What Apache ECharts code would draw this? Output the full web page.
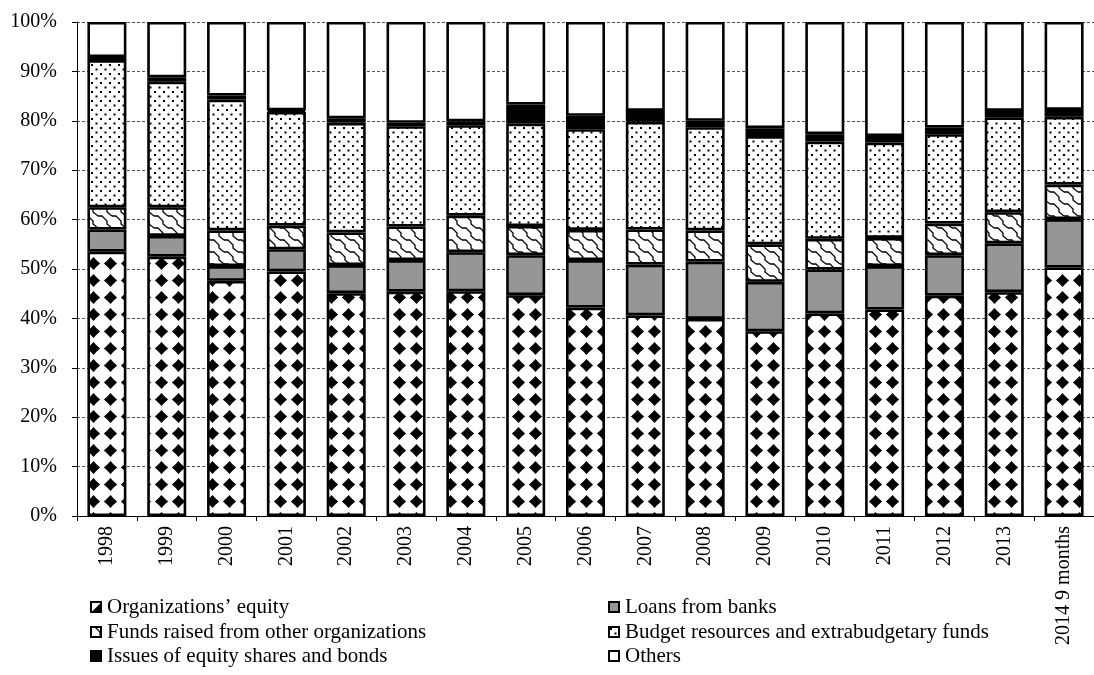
<!DOCTYPE html>
<html>
<head>
<meta charset="utf-8">
<script src="https://cdn.jsdelivr.net/npm/echarts@6/dist/echarts.min.js"></script>
<style>
html,body{margin:0;padding:0;background:#fff;}
#chart{width:1094px;height:675px;}
</style>
</head>
<body>
<div id="chart"></div>
<script>
const categories = ['1998','1999','2000','2001','2002','2003','2004','2005','2006','2007','2008','2009','2010','2011','2012','2013','2014 9 months'];
const yTicks = [0,10,20,30,40,50,60,70,80,90,100];
const equity = [53.5,52.5,47.6,49.5,45.1,45.4,45.5,44.7,42.2,40.6,39.9,37.4,41.0,41.8,44.6,45.3,50.3];
const loans  = [4.5,4.2,3.0,4.5,5.7,6.4,7.9,8.1,9.6,10.3,11.6,10.0,8.9,8.8,8.2,9.9,9.8];
const fundsRaised = [4.5,5.8,7.2,4.8,6.6,6.8,7.4,5.9,6.1,7.1,6.3,7.6,6.2,5.7,6.4,6.3,7.0];
const budget = [29.8,25.4,26.5,23.0,22.2,20.3,18.3,20.7,20.4,21.8,20.9,21.9,19.7,19.3,18.1,19.2,13.7];
const issues = [0.6,0.9,0.8,0.3,0.9,0.7,0.8,3.9,2.7,2.2,1.3,1.6,1.5,1.3,1.3,1.3,1.4];
const others = [7.1,11.2,14.9,17.9,19.5,20.4,20.1,16.7,19.0,18.0,20.0,21.5,22.7,23.1,21.4,18.0,17.8];
const seriesNames = ['Organizations\u2019 equity','Loans from banks','Funds raised from other organizations','Budget resources and extrabudgetary funds','Issues of equity shares and bonds','Others'];

const FONT = '"Liberation Serif", "Times New Roman", serif';

function makeTile(w, h, draw) {
  const c = document.createElement('canvas');
  c.width = w; c.height = h;
  const ctx = c.getContext('2d');
  ctx.fillStyle = '#fff';
  ctx.fillRect(0, 0, w, h);
  for (const dx of [-w, 0, w]) for (const dy of [-h, 0, h]) {
    ctx.save(); ctx.translate(dx, dy); draw(ctx); ctx.restore();
  }
  return c;
}
// Diamond-star pattern (organizations' equity)
const equityTile = makeTile(17, 17, ctx => {
  const cx = 8.5, cy = 8.5, r = 6.6, k = 3.0;
  ctx.fillStyle = '#000';
  ctx.beginPath();
  ctx.moveTo(cx, cy - r);
  ctx.quadraticCurveTo(cx + k, cy - k, cx + r, cy);
  ctx.quadraticCurveTo(cx + k, cy + k, cx, cy + r);
  ctx.quadraticCurveTo(cx - k, cy + k, cx - r, cy);
  ctx.quadraticCurveTo(cx - k, cy - k, cx, cy - r);
  ctx.closePath();
  ctx.fill();
});
// Shingle / wave pattern (funds raised)
const fundsTile = makeTile(14, 12, ctx => {
  ctx.strokeStyle = '#000';
  ctx.lineWidth = 1.3;
  ctx.beginPath();
  ctx.moveTo(0, 0);
  ctx.lineTo(4, 0);
  ctx.lineTo(9, 5);
  ctx.lineTo(9, 8);
  ctx.lineTo(14, 12);
  ctx.stroke();
});
// Dotted pattern (budget)
const budgetTile = makeTile(9, 9, ctx => {
  ctx.fillStyle = '#000';
  ctx.fillRect(1, 1, 2, 2);
  ctx.fillRect(5.5, 5.5, 2, 2);
});

const fills = [
  {image: equityTile, repeat: 'repeat'},
  '#969696',
  {image: fundsTile, repeat: 'repeat'},
  {image: budgetTile, repeat: 'repeat'},
  '#000000',
  '#ffffff'
];
const dataSets = [equity, loans, fundsRaised, budget, issues, others];

const chart = echarts.init(document.getElementById('chart'), null, {renderer: 'canvas'});

const series = dataSets.map((d, i) => ({
  name: seriesNames[i],
  type: 'bar',
  stack: 'total',
  barWidth: 39,
  data: d,
  itemStyle: {color: fills[i], borderColor: '#000', borderWidth: 2.6},
  emphasis: {disabled: true},
  animation: false
}));

// legend grid: [series index, column left, row center]
const legendSlots = [
  [0, 85, 602], [2, 85, 627], [4, 85, 651],
  [1, 603, 602], [3, 603, 627], [5, 603, 651]
];
const legends = legendSlots.map(s => ({
  left: s[1],
  top: s[2] - 11,
  orient: 'horizontal',
  icon: 'rect',
  itemWidth: 10,
  itemHeight: 10,
  selectedMode: false,
  data: [seriesNames[s[0]]],
  textStyle: {fontFamily: FONT, fontSize: 21, color: '#000', lineHeight: 22, padding: [0, 0, 0, 1]},
  itemStyle: {borderColor: '#000', borderWidth: 2}
}));

chart.setOption({
  backgroundColor: '#fff',
  animation: false,
  grid: {left: 77, right: -12, top: 22, bottom: 159, containLabel: false},
  legend: legends,
  xAxis: {
    type: 'category',
    data: categories,
    axisLine: {lineStyle: {color: '#000', width: 1}},
    axisTick: {show: true, length: 5, lineStyle: {color: '#000'}},
    axisLabel: {rotate: 90, margin: 10, fontFamily: FONT, fontSize: 20, color: '#000', interval: 0}
  },
  yAxis: {
    type: 'value',
    min: yTicks[0],
    max: yTicks[yTicks.length - 1],
    interval: 10,
    axisLine: {show: true, lineStyle: {color: '#000', width: 1}},
    axisTick: {show: true, length: 5, lineStyle: {color: '#000'}},
    axisLabel: {formatter: '{value}%', margin: 20, fontFamily: FONT, fontSize: 20, color: '#000'},
    splitLine: {show: true, lineStyle: {color: '#555', type: [3, 2], width: 1}}
  },
  series: series
});
</script>
</body>
</html>
